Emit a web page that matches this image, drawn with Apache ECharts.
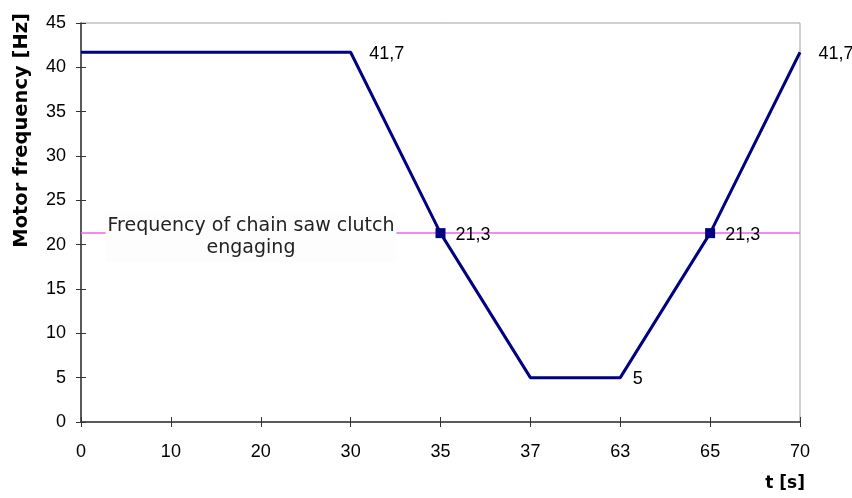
<!DOCTYPE html>
<html><head><meta charset="utf-8">
<script src="https://cdn.jsdelivr.net/npm/echarts@6/dist/echarts.min.js"></script>
<style>html,body{margin:0;padding:0;background:#fff}#c{width:852px;height:498px}</style>
</head><body><div id="c"></div>
<script>
const categories = ['0','10','20','30','35','37','63','65','70'];
const frequency = [41.7, 41.7, 41.7, 41.7, 21.3, 5, 5, 21.3, 41.7];
const clutchFrequency = 21.3;
const labeledIdx = [3, 4, 6, 7, 8];
const markerIdx = [4, 7];
const yTicks = {min: 0, max: 45, interval: 5};

const chart = echarts.init(document.getElementById('c'), null, {renderer: 'canvas'});
const lblFont = {fontFamily: 'Liberation Sans', fontSize: 18, color: '#000'};
const seriesData = frequency.map((v, i) => {
  const isMarker = markerIdx.includes(i);
  return {
    value: v,
    symbol: 'rect',
    symbolSize: isMarker ? 10 : 1,
    itemStyle: {color: isMarker ? '#000080' : 'rgba(0,0,0,0)'},
    label: {show: labeledIdx.includes(i), position: 'right', distance: isMarker ? 10 : (i === 6 ? 12 : 18),
      offset: [0, i === 6 ? 1 : 2],
      formatter: p => String(p.value).replace('.', ','), ...lblFont}
  };
});
chart.setOption({
  animation: false,
  grid: {left: 81, right: 52, top: 23, bottom: 76, show: true, borderColor: '#a0a0a0', borderWidth: 1},
  xAxis: [{
    type: 'category', data: categories, boundaryGap: false,
    axisLine: {lineStyle: {color: '#333', width: 1.5}},
    axisTick: {show: true, alignWithLabel: true, length: 5, lineStyle: {color: '#333'}},
    axisLabel: {margin: 21, ...lblFont},
    splitLine: {show: false}
  }, {
    type: 'category', data: categories, boundaryGap: false, position: 'bottom',
    axisLine: {show: false}, axisLabel: {show: false},
    axisTick: {show: true, inside: true, length: 5, lineStyle: {color: '#333'}}
  }],
  yAxis: [{
    type: 'value', min: yTicks.min, max: yTicks.max, interval: yTicks.interval,
    axisLine: {show: true, lineStyle: {color: '#333', width: 1.5}},
    axisTick: {show: true, length: 5, lineStyle: {color: '#333'}},
    axisLabel: {margin: 15, ...lblFont},
    splitLine: {show: false}
  }, {
    type: 'value', min: yTicks.min, max: yTicks.max, interval: yTicks.interval, position: 'left',
    axisLine: {show: false}, axisLabel: {show: false}, splitLine: {show: false},
    axisTick: {show: true, inside: true, length: 5, lineStyle: {color: '#333'}}
  }],
  series: [{
    type: 'line', data: seriesData,
    lineStyle: {color: '#000080', width: 3},
    itemStyle: {color: '#000080'},
    showAllSymbol: true,
    markLine: {
      silent: true, symbol: 'none', z: 1,
      lineStyle: {color: '#f060f0', width: 1.5, type: 'solid'},
      label: {show: false},
      data: [{yAxis: clutchFrequency}]
    },
    z: 3
  }]
});
const p = chart.convertToPixel({xAxisIndex: 0, yAxisIndex: 0}, [0, clutchFrequency]);
chart.setOption({graphic: [
  {type: 'text', left: 12, top: 13, rotation: Math.PI / 2,
   style: {text: 'Motor frequency [Hz]', fontFamily: 'DejaVu Sans', fontWeight: 'bold', fontSize: 19.5, fill: '#000'}},
  {type: 'text', right: 47, bottom: 6,
   style: {text: 't [s]', fontFamily: 'DejaVu Sans', fontWeight: 'bold', fontSize: 17, fill: '#000'}},
  {type: 'text', x: p[0] + 170, y: p[1] - 21, z: 10,
   style: {text: 'Frequency of chain saw clutch\nengaging', align: 'center', verticalAlign: 'top',
     fontFamily: 'DejaVu Sans', fontSize: 19, lineHeight: 22, fill: '#222',
     backgroundColor: '#fdfdfd', padding: [3, 2, 3, 2]}}
]});
</script></body></html>
